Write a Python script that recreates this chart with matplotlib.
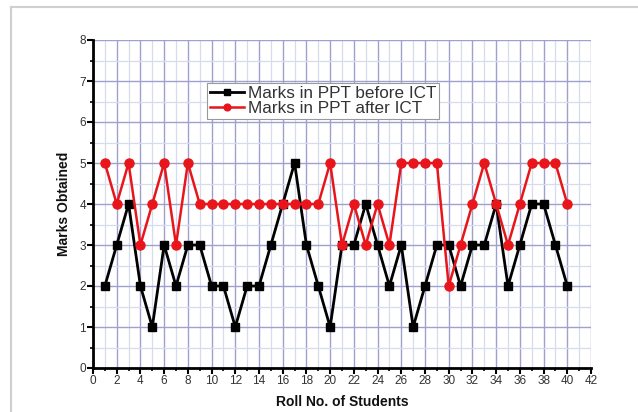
import matplotlib
matplotlib.use("Agg")
import matplotlib.pyplot as plt
from matplotlib.ticker import MultipleLocator
from matplotlib.lines import Line2D

roll_no = list(range(1, 41))
before_ict = [2, 3, 4, 2, 1, 3, 2, 3, 3, 2,
              2, 1, 2, 2, 3, 4, 5, 3, 2, 1,
              3, 3, 4, 3, 2, 3, 1, 2, 3, 3,
              2, 3, 3, 4, 2, 3, 4, 4, 3, 2]
after_ict = [5, 4, 5, 3, 4, 5, 3, 5, 4, 4,
             4, 4, 4, 4, 4, 4, 4, 4, 4, 5,
             3, 4, 3, 4, 3, 5, 5, 5, 5, 2,
             3, 4, 5, 4, 3, 4, 5, 5, 5, 4]
series_labels = ["Marks in PPT before ICT", "Marks in PPT after ICT"]
x_label = "Roll No. of Students"
y_label = "Marks Obtained"

plt.rcParams['font.family'] = ['Liberation Sans', 'DejaVu Sans']

fig = plt.figure(figsize=(6.38, 4.12), dpi=100)
W, H = 638, 412
# outer frame
fig.add_artist(Line2D([11 / W, 1.0], [1 - 7 / H, 1 - 7 / H], color='#cfcfcf', lw=1.5))
fig.add_artist(Line2D([11 / W, 11 / W], [1 - 7 / H, 0.0], color='#cfcfcf', lw=1.5))

ax = fig.add_axes([93 / W, 1 - 368 / H, (591 - 93) / W, (368 - 40) / H])
ax.set_xlim(0, 42)
ax.set_ylim(0, 8)

ax.xaxis.set_major_locator(MultipleLocator(2))
ax.xaxis.set_minor_locator(MultipleLocator(1))
ax.yaxis.set_major_locator(MultipleLocator(1))
ax.yaxis.set_minor_locator(MultipleLocator(0.5))

ax.grid(which='major', color='#a0a0d0', lw=1.0)
ax.grid(which='minor', color='#d6dcee', lw=0.9)
ax.set_axisbelow(True)

for s in ['top', 'right']:
    ax.spines[s].set_visible(False)
for s in ['left', 'bottom']:
    ax.spines[s].set_linewidth(2.0)

ax.tick_params(which='major', direction='out', length=4, width=1.5, labelsize=8.5, pad=1,
               labelcolor='#333333')
ax.tick_params(which='minor', direction='out', length=2, width=1.2)

ax.plot(roll_no, before_ict, color='black', lw=2.0, marker='s', ms=6,
        label=series_labels[0])
ax.plot(roll_no, after_ict, color='#e8151b', lw=1.8, marker='o', ms=6.5,
        label=series_labels[1])

ax.set_xlabel(x_label, fontsize=10, fontweight='bold', labelpad=6, color='#111111')
ax.set_ylabel(y_label, fontsize=10, fontweight='bold', labelpad=6, color='#111111')

leg = ax.legend(loc='upper left', bbox_to_anchor=((207 - 93) / (591 - 93), 1 - (83 - 40) / (368 - 40)),
                fontsize=12.3, frameon=True, fancybox=False, borderpad=0.15,
                handlelength=2.0, handletextpad=0.25, labelspacing=0.05,
                borderaxespad=0, framealpha=1, markerscale=0.75)
leg.get_frame().set_edgecolor('#999999')
leg.get_frame().set_linewidth(0.8)
for t in leg.get_texts():
    t.set_color('#333333')

fig.savefig("out.png", dpi=100)
